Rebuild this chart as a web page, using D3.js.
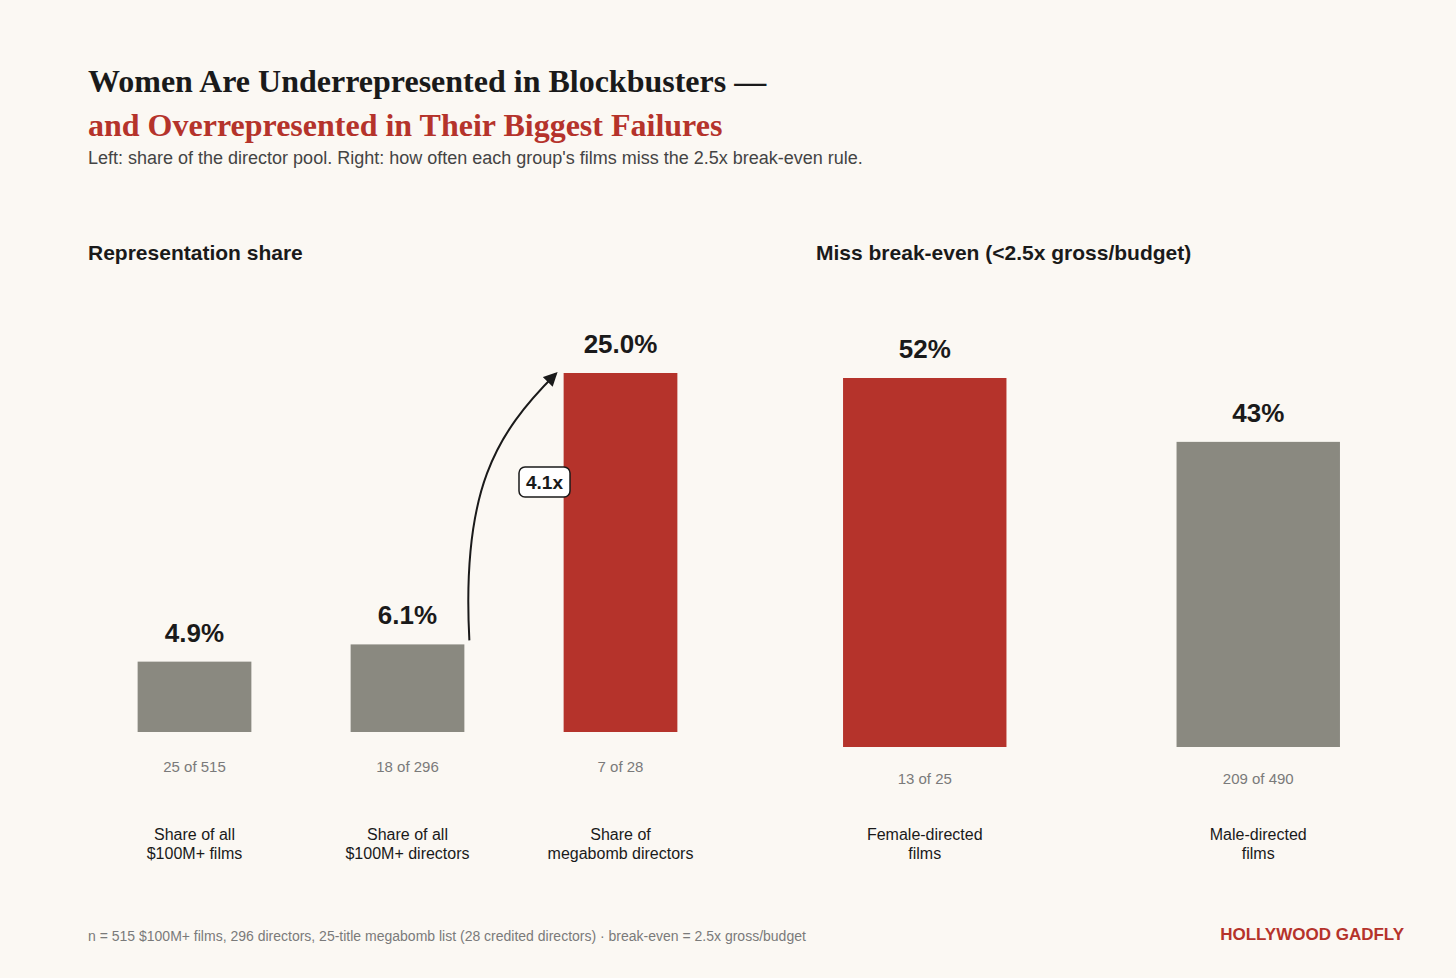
<!DOCTYPE html>
<html><head><meta charset="utf-8">
<script src="https://cdn.jsdelivr.net/npm/d3@7"></script>
<style>body{margin:0;background:#fbf8f3}</style></head>
<body><svg id="c" width="1456" height="978"></svg>
<script>
const leftCats=["Share of all\n$100M+ films","Share of all\n$100M+ directors","Share of\nmegabomb directors"];
const leftVals=[4.9,6.1,25.0];
const leftLabels=["4.9%","6.1%","25.0%"];
const leftCounts=["25 of 515","18 of 296","7 of 28"];
const leftColors=["#8a8980","#8a8980","#b5332b"];
const rightCats=["Female-directed\nfilms","Male-directed\nfilms"];
const rightVals=[52,43];
const rightLabels=["52%","43%"];
const rightCounts=["13 of 25","209 of 490"];
const rightColors=["#b5332b","#8a8980"];

const svg=d3.select("#c");
svg.append("rect").attr("width",1456).attr("height",978).attr("fill","#fbf8f3");
const sans="Liberation Sans, Arial, sans-serif";
svg.append("text").attr("x",88).attr("y",92).attr("font-family","Liberation Serif, serif").attr("font-weight","bold").attr("font-size",32).attr("fill","#1a1a1a").text("Women Are Underrepresented in Blockbusters —");
svg.append("text").attr("x",88).attr("y",136).attr("font-family","Liberation Serif, serif").attr("font-weight","bold").attr("font-size",32).attr("fill","#b5332b").text("and Overrepresented in Their Biggest Failures");
svg.append("text").attr("x",88).attr("y",164).attr("font-family",sans).attr("font-size",18).attr("fill","#444").text("Left: share of the director pool. Right: how often each group's films miss the 2.5x break-even rule.");
svg.append("text").attr("x",88).attr("y",260).attr("font-family",sans).attr("font-weight","bold").attr("font-size",21).attr("fill","#1a1a1a").text("Representation share");
svg.append("text").attr("x",816).attr("y",260).attr("font-family",sans).attr("font-weight","bold").attr("font-size",21).attr("fill","#1a1a1a").text("Miss break-even (<2.5x gross/budget)");

function panel(cats,vals,labels,counts,colors,x0,x1,pad,base,top,maxV,countY){
  const x=d3.scaleBand().domain(cats).range([x0,x1]).paddingInner(pad).paddingOuter(pad/2);
  const y=d3.scaleLinear().domain([0,maxV]).range([base,top]);
  const g=svg.append("g");
  cats.forEach((c,i)=>{
    const cx=x(c)+x.bandwidth()/2;
    g.append("rect").attr("x",x(c)).attr("width",x.bandwidth()).attr("y",y(vals[i])).attr("height",base-y(vals[i])).attr("fill",colors[i]);
    g.append("text").attr("x",cx).attr("y",y(vals[i])-20).attr("text-anchor","middle").attr("font-family",sans).attr("font-weight","bold").attr("font-size",26).attr("fill","#1a1a1a").text(labels[i]);
    g.append("text").attr("x",cx).attr("y",countY).attr("text-anchor","middle").attr("font-family",sans).attr("font-size",15).attr("fill","#7a7a7a").text(counts[i]);
    c.split("\n").forEach((l,j)=>g.append("text").attr("x",cx).attr("y",840+j*19).attr("text-anchor","middle").attr("font-family",sans).attr("font-size",16).attr("fill","#1a1a1a").text(l));
  });
  return {x,y};
}
const L=panel(leftCats,leftVals,leftLabels,leftCounts,leftColors,88,727,0.466,732,373,25,772);
const R=panel(rightCats,rightVals,rightLabels,rightCounts,rightColors,758,1425,0.51,747,378,52,784);

// arrow
const defs=svg.append("defs");
defs.append("marker").attr("id","ah").attr("viewBox","0 0 10 10").attr("refX",8).attr("refY",5).attr("markerWidth",7).attr("markerHeight",7).attr("orient","auto")
 .append("path").attr("d","M0,0L10,5L0,10z").attr("fill","#1a1a1a");
const b1=leftCats[1],b2=leftCats[2];
const sx=L.x(b1)+L.x.bandwidth()+5, sy=L.y(leftVals[1])-4;
const ex=L.x(b2)-8, ey=L.y(leftVals[2])+1;
svg.append("path").attr("d",`M${sx},${sy} C${sx-8},${sy-150} ${ex-60},${ey+60} ${ex},${ey}`).attr("fill","none").attr("stroke","#1a1a1a").attr("stroke-width",2).attr("marker-end","url(#ah)");
svg.append("rect").attr("x",519).attr("y",467).attr("width",51).attr("height",30).attr("rx",6).attr("fill","#fff").attr("stroke","#1a1a1a").attr("stroke-width",1.5);
svg.append("text").attr("x",544.5).attr("y",489).attr("text-anchor","middle").attr("font-family",sans).attr("font-weight","bold").attr("font-size",19).attr("fill","#1a1a1a").text((leftVals[2]/leftVals[1]).toFixed(1)+"x");

svg.append("text").attr("x",88).attr("y",941).attr("font-family",sans).attr("font-size",14).attr("fill","#7a7a7a").text("n = 515 $100M+ films, 296 directors, 25-title megabomb list (28 credited directors)  ·  break-even = 2.5x gross/budget");
svg.append("text").attr("x",1404).attr("y",940).attr("text-anchor","end").attr("font-family",sans).attr("font-weight","bold").attr("font-size",17).attr("fill","#b5332b").text("HOLLYWOOD GADFLY");
</script></body></html>
